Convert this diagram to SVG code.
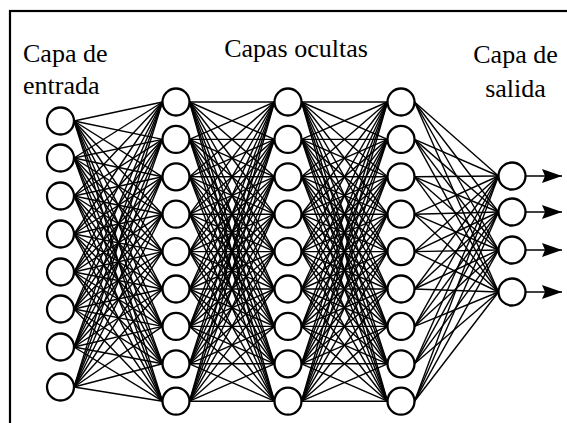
<svg xmlns="http://www.w3.org/2000/svg" width="567" height="423" viewBox="0 0 567 423">
<style>
.n{fill:#fff;stroke:#000;stroke-width:2.3}
.c line{stroke:#000;stroke-width:1.4}
.t{font-family:"Liberation Serif","Times New Roman",serif;font-size:26px;fill:#000}
.b{fill:none;stroke:#000;stroke-width:2.2}
</style>
<defs>
<marker id="ah" markerUnits="userSpaceOnUse" markerWidth="22" markerHeight="14" refX="20" refY="7" orient="auto">
<path d="M0,0 L20,7 L0,14 L3,7 z" fill="#000"/>
</marker>
</defs>
<rect class="b" x="10" y="11" width="570" height="430"/>
<g id="labels">
<text class="t" x="23" y="62">Capa de</text>
<text class="t" x="23" y="94">entrada</text>
<text class="t" x="296" y="57" text-anchor="middle">Capas ocultas</text>
<text class="t" x="515.5" y="63" text-anchor="middle">Capa de</text>
<text class="t" x="515.5" y="97" text-anchor="middle">salida</text>
</g>
<g id="connectors" class="c">
<g id="c-in-h1">
<line x1="74" y1="121" x2="162.5" y2="102"/><line x1="74" y1="121" x2="162.5" y2="139.4"/><line x1="74" y1="121" x2="162.5" y2="176.8"/><line x1="74" y1="121" x2="162.5" y2="214.2"/><line x1="74" y1="121" x2="162.5" y2="251.6"/><line x1="74" y1="121" x2="162.5" y2="289"/><line x1="74" y1="121" x2="162.5" y2="326.4"/><line x1="74" y1="121" x2="162.5" y2="363.8"/><line x1="74" y1="121" x2="162.5" y2="401.2"/>
<line x1="74" y1="158" x2="162.5" y2="102"/><line x1="74" y1="158" x2="162.5" y2="139.4"/><line x1="74" y1="158" x2="162.5" y2="176.8"/><line x1="74" y1="158" x2="162.5" y2="214.2"/><line x1="74" y1="158" x2="162.5" y2="251.6"/><line x1="74" y1="158" x2="162.5" y2="289"/><line x1="74" y1="158" x2="162.5" y2="326.4"/><line x1="74" y1="158" x2="162.5" y2="363.8"/><line x1="74" y1="158" x2="162.5" y2="401.2"/>
<line x1="74" y1="196" x2="162.5" y2="102"/><line x1="74" y1="196" x2="162.5" y2="139.4"/><line x1="74" y1="196" x2="162.5" y2="176.8"/><line x1="74" y1="196" x2="162.5" y2="214.2"/><line x1="74" y1="196" x2="162.5" y2="251.6"/><line x1="74" y1="196" x2="162.5" y2="289"/><line x1="74" y1="196" x2="162.5" y2="326.4"/><line x1="74" y1="196" x2="162.5" y2="363.8"/><line x1="74" y1="196" x2="162.5" y2="401.2"/>
<line x1="74" y1="234" x2="162.5" y2="102"/><line x1="74" y1="234" x2="162.5" y2="139.4"/><line x1="74" y1="234" x2="162.5" y2="176.8"/><line x1="74" y1="234" x2="162.5" y2="214.2"/><line x1="74" y1="234" x2="162.5" y2="251.6"/><line x1="74" y1="234" x2="162.5" y2="289"/><line x1="74" y1="234" x2="162.5" y2="326.4"/><line x1="74" y1="234" x2="162.5" y2="363.8"/><line x1="74" y1="234" x2="162.5" y2="401.2"/>
<line x1="74" y1="272" x2="162.5" y2="102"/><line x1="74" y1="272" x2="162.5" y2="139.4"/><line x1="74" y1="272" x2="162.5" y2="176.8"/><line x1="74" y1="272" x2="162.5" y2="214.2"/><line x1="74" y1="272" x2="162.5" y2="251.6"/><line x1="74" y1="272" x2="162.5" y2="289"/><line x1="74" y1="272" x2="162.5" y2="326.4"/><line x1="74" y1="272" x2="162.5" y2="363.8"/><line x1="74" y1="272" x2="162.5" y2="401.2"/>
<line x1="74" y1="309" x2="162.5" y2="102"/><line x1="74" y1="309" x2="162.5" y2="139.4"/><line x1="74" y1="309" x2="162.5" y2="176.8"/><line x1="74" y1="309" x2="162.5" y2="214.2"/><line x1="74" y1="309" x2="162.5" y2="251.6"/><line x1="74" y1="309" x2="162.5" y2="289"/><line x1="74" y1="309" x2="162.5" y2="326.4"/><line x1="74" y1="309" x2="162.5" y2="363.8"/><line x1="74" y1="309" x2="162.5" y2="401.2"/>
<line x1="74" y1="347" x2="162.5" y2="102"/><line x1="74" y1="347" x2="162.5" y2="139.4"/><line x1="74" y1="347" x2="162.5" y2="176.8"/><line x1="74" y1="347" x2="162.5" y2="214.2"/><line x1="74" y1="347" x2="162.5" y2="251.6"/><line x1="74" y1="347" x2="162.5" y2="289"/><line x1="74" y1="347" x2="162.5" y2="326.4"/><line x1="74" y1="347" x2="162.5" y2="363.8"/><line x1="74" y1="347" x2="162.5" y2="401.2"/>
<line x1="74" y1="387" x2="162.5" y2="102"/><line x1="74" y1="387" x2="162.5" y2="139.4"/><line x1="74" y1="387" x2="162.5" y2="176.8"/><line x1="74" y1="387" x2="162.5" y2="214.2"/><line x1="74" y1="387" x2="162.5" y2="251.6"/><line x1="74" y1="387" x2="162.5" y2="289"/><line x1="74" y1="387" x2="162.5" y2="326.4"/><line x1="74" y1="387" x2="162.5" y2="363.8"/><line x1="74" y1="387" x2="162.5" y2="401.2"/>
</g>
<g id="c-h1-h2">
<line x1="189.5" y1="102" x2="274.5" y2="102"/><line x1="189.5" y1="102" x2="274.5" y2="139.4"/><line x1="189.5" y1="102" x2="274.5" y2="176.8"/><line x1="189.5" y1="102" x2="274.5" y2="214.2"/><line x1="189.5" y1="102" x2="274.5" y2="251.6"/><line x1="189.5" y1="102" x2="274.5" y2="289"/><line x1="189.5" y1="102" x2="274.5" y2="326.4"/><line x1="189.5" y1="102" x2="274.5" y2="363.8"/><line x1="189.5" y1="102" x2="274.5" y2="401.2"/>
<line x1="189.5" y1="139.4" x2="274.5" y2="102"/><line x1="189.5" y1="139.4" x2="274.5" y2="139.4"/><line x1="189.5" y1="139.4" x2="274.5" y2="176.8"/><line x1="189.5" y1="139.4" x2="274.5" y2="214.2"/><line x1="189.5" y1="139.4" x2="274.5" y2="251.6"/><line x1="189.5" y1="139.4" x2="274.5" y2="289"/><line x1="189.5" y1="139.4" x2="274.5" y2="326.4"/><line x1="189.5" y1="139.4" x2="274.5" y2="363.8"/><line x1="189.5" y1="139.4" x2="274.5" y2="401.2"/>
<line x1="189.5" y1="176.8" x2="274.5" y2="102"/><line x1="189.5" y1="176.8" x2="274.5" y2="139.4"/><line x1="189.5" y1="176.8" x2="274.5" y2="176.8"/><line x1="189.5" y1="176.8" x2="274.5" y2="214.2"/><line x1="189.5" y1="176.8" x2="274.5" y2="251.6"/><line x1="189.5" y1="176.8" x2="274.5" y2="289"/><line x1="189.5" y1="176.8" x2="274.5" y2="326.4"/><line x1="189.5" y1="176.8" x2="274.5" y2="363.8"/><line x1="189.5" y1="176.8" x2="274.5" y2="401.2"/>
<line x1="189.5" y1="214.2" x2="274.5" y2="102"/><line x1="189.5" y1="214.2" x2="274.5" y2="139.4"/><line x1="189.5" y1="214.2" x2="274.5" y2="176.8"/><line x1="189.5" y1="214.2" x2="274.5" y2="214.2"/><line x1="189.5" y1="214.2" x2="274.5" y2="251.6"/><line x1="189.5" y1="214.2" x2="274.5" y2="289"/><line x1="189.5" y1="214.2" x2="274.5" y2="326.4"/><line x1="189.5" y1="214.2" x2="274.5" y2="363.8"/><line x1="189.5" y1="214.2" x2="274.5" y2="401.2"/>
<line x1="189.5" y1="251.6" x2="274.5" y2="102"/><line x1="189.5" y1="251.6" x2="274.5" y2="139.4"/><line x1="189.5" y1="251.6" x2="274.5" y2="176.8"/><line x1="189.5" y1="251.6" x2="274.5" y2="214.2"/><line x1="189.5" y1="251.6" x2="274.5" y2="251.6"/><line x1="189.5" y1="251.6" x2="274.5" y2="289"/><line x1="189.5" y1="251.6" x2="274.5" y2="326.4"/><line x1="189.5" y1="251.6" x2="274.5" y2="363.8"/><line x1="189.5" y1="251.6" x2="274.5" y2="401.2"/>
<line x1="189.5" y1="289" x2="274.5" y2="102"/><line x1="189.5" y1="289" x2="274.5" y2="139.4"/><line x1="189.5" y1="289" x2="274.5" y2="176.8"/><line x1="189.5" y1="289" x2="274.5" y2="214.2"/><line x1="189.5" y1="289" x2="274.5" y2="251.6"/><line x1="189.5" y1="289" x2="274.5" y2="289"/><line x1="189.5" y1="289" x2="274.5" y2="326.4"/><line x1="189.5" y1="289" x2="274.5" y2="363.8"/><line x1="189.5" y1="289" x2="274.5" y2="401.2"/>
<line x1="189.5" y1="326.4" x2="274.5" y2="102"/><line x1="189.5" y1="326.4" x2="274.5" y2="139.4"/><line x1="189.5" y1="326.4" x2="274.5" y2="176.8"/><line x1="189.5" y1="326.4" x2="274.5" y2="214.2"/><line x1="189.5" y1="326.4" x2="274.5" y2="251.6"/><line x1="189.5" y1="326.4" x2="274.5" y2="289"/><line x1="189.5" y1="326.4" x2="274.5" y2="326.4"/><line x1="189.5" y1="326.4" x2="274.5" y2="363.8"/><line x1="189.5" y1="326.4" x2="274.5" y2="401.2"/>
<line x1="189.5" y1="363.8" x2="274.5" y2="102"/><line x1="189.5" y1="363.8" x2="274.5" y2="139.4"/><line x1="189.5" y1="363.8" x2="274.5" y2="176.8"/><line x1="189.5" y1="363.8" x2="274.5" y2="214.2"/><line x1="189.5" y1="363.8" x2="274.5" y2="251.6"/><line x1="189.5" y1="363.8" x2="274.5" y2="289"/><line x1="189.5" y1="363.8" x2="274.5" y2="326.4"/><line x1="189.5" y1="363.8" x2="274.5" y2="363.8"/><line x1="189.5" y1="363.8" x2="274.5" y2="401.2"/>
<line x1="189.5" y1="401.2" x2="274.5" y2="102"/><line x1="189.5" y1="401.2" x2="274.5" y2="139.4"/><line x1="189.5" y1="401.2" x2="274.5" y2="176.8"/><line x1="189.5" y1="401.2" x2="274.5" y2="214.2"/><line x1="189.5" y1="401.2" x2="274.5" y2="251.6"/><line x1="189.5" y1="401.2" x2="274.5" y2="289"/><line x1="189.5" y1="401.2" x2="274.5" y2="326.4"/><line x1="189.5" y1="401.2" x2="274.5" y2="363.8"/><line x1="189.5" y1="401.2" x2="274.5" y2="401.2"/>
</g>
<g id="c-h2-h3">
<line x1="301.5" y1="102" x2="387.5" y2="102"/><line x1="301.5" y1="102" x2="387.5" y2="139.4"/><line x1="301.5" y1="102" x2="387.5" y2="176.8"/><line x1="301.5" y1="102" x2="387.5" y2="214.2"/><line x1="301.5" y1="102" x2="387.5" y2="251.6"/><line x1="301.5" y1="102" x2="387.5" y2="289"/><line x1="301.5" y1="102" x2="387.5" y2="326.4"/><line x1="301.5" y1="102" x2="387.5" y2="363.8"/><line x1="301.5" y1="102" x2="387.5" y2="401.2"/>
<line x1="301.5" y1="139.4" x2="387.5" y2="102"/><line x1="301.5" y1="139.4" x2="387.5" y2="139.4"/><line x1="301.5" y1="139.4" x2="387.5" y2="176.8"/><line x1="301.5" y1="139.4" x2="387.5" y2="214.2"/><line x1="301.5" y1="139.4" x2="387.5" y2="251.6"/><line x1="301.5" y1="139.4" x2="387.5" y2="289"/><line x1="301.5" y1="139.4" x2="387.5" y2="326.4"/><line x1="301.5" y1="139.4" x2="387.5" y2="363.8"/><line x1="301.5" y1="139.4" x2="387.5" y2="401.2"/>
<line x1="301.5" y1="176.8" x2="387.5" y2="102"/><line x1="301.5" y1="176.8" x2="387.5" y2="139.4"/><line x1="301.5" y1="176.8" x2="387.5" y2="176.8"/><line x1="301.5" y1="176.8" x2="387.5" y2="214.2"/><line x1="301.5" y1="176.8" x2="387.5" y2="251.6"/><line x1="301.5" y1="176.8" x2="387.5" y2="289"/><line x1="301.5" y1="176.8" x2="387.5" y2="326.4"/><line x1="301.5" y1="176.8" x2="387.5" y2="363.8"/><line x1="301.5" y1="176.8" x2="387.5" y2="401.2"/>
<line x1="301.5" y1="214.2" x2="387.5" y2="102"/><line x1="301.5" y1="214.2" x2="387.5" y2="139.4"/><line x1="301.5" y1="214.2" x2="387.5" y2="176.8"/><line x1="301.5" y1="214.2" x2="387.5" y2="214.2"/><line x1="301.5" y1="214.2" x2="387.5" y2="251.6"/><line x1="301.5" y1="214.2" x2="387.5" y2="289"/><line x1="301.5" y1="214.2" x2="387.5" y2="326.4"/><line x1="301.5" y1="214.2" x2="387.5" y2="363.8"/><line x1="301.5" y1="214.2" x2="387.5" y2="401.2"/>
<line x1="301.5" y1="251.6" x2="387.5" y2="102"/><line x1="301.5" y1="251.6" x2="387.5" y2="139.4"/><line x1="301.5" y1="251.6" x2="387.5" y2="176.8"/><line x1="301.5" y1="251.6" x2="387.5" y2="214.2"/><line x1="301.5" y1="251.6" x2="387.5" y2="251.6"/><line x1="301.5" y1="251.6" x2="387.5" y2="289"/><line x1="301.5" y1="251.6" x2="387.5" y2="326.4"/><line x1="301.5" y1="251.6" x2="387.5" y2="363.8"/><line x1="301.5" y1="251.6" x2="387.5" y2="401.2"/>
<line x1="301.5" y1="289" x2="387.5" y2="102"/><line x1="301.5" y1="289" x2="387.5" y2="139.4"/><line x1="301.5" y1="289" x2="387.5" y2="176.8"/><line x1="301.5" y1="289" x2="387.5" y2="214.2"/><line x1="301.5" y1="289" x2="387.5" y2="251.6"/><line x1="301.5" y1="289" x2="387.5" y2="289"/><line x1="301.5" y1="289" x2="387.5" y2="326.4"/><line x1="301.5" y1="289" x2="387.5" y2="363.8"/><line x1="301.5" y1="289" x2="387.5" y2="401.2"/>
<line x1="301.5" y1="326.4" x2="387.5" y2="102"/><line x1="301.5" y1="326.4" x2="387.5" y2="139.4"/><line x1="301.5" y1="326.4" x2="387.5" y2="176.8"/><line x1="301.5" y1="326.4" x2="387.5" y2="214.2"/><line x1="301.5" y1="326.4" x2="387.5" y2="251.6"/><line x1="301.5" y1="326.4" x2="387.5" y2="289"/><line x1="301.5" y1="326.4" x2="387.5" y2="326.4"/><line x1="301.5" y1="326.4" x2="387.5" y2="363.8"/><line x1="301.5" y1="326.4" x2="387.5" y2="401.2"/>
<line x1="301.5" y1="363.8" x2="387.5" y2="102"/><line x1="301.5" y1="363.8" x2="387.5" y2="139.4"/><line x1="301.5" y1="363.8" x2="387.5" y2="176.8"/><line x1="301.5" y1="363.8" x2="387.5" y2="214.2"/><line x1="301.5" y1="363.8" x2="387.5" y2="251.6"/><line x1="301.5" y1="363.8" x2="387.5" y2="289"/><line x1="301.5" y1="363.8" x2="387.5" y2="326.4"/><line x1="301.5" y1="363.8" x2="387.5" y2="363.8"/><line x1="301.5" y1="363.8" x2="387.5" y2="401.2"/>
<line x1="301.5" y1="401.2" x2="387.5" y2="102"/><line x1="301.5" y1="401.2" x2="387.5" y2="139.4"/><line x1="301.5" y1="401.2" x2="387.5" y2="176.8"/><line x1="301.5" y1="401.2" x2="387.5" y2="214.2"/><line x1="301.5" y1="401.2" x2="387.5" y2="251.6"/><line x1="301.5" y1="401.2" x2="387.5" y2="289"/><line x1="301.5" y1="401.2" x2="387.5" y2="326.4"/><line x1="301.5" y1="401.2" x2="387.5" y2="363.8"/><line x1="301.5" y1="401.2" x2="387.5" y2="401.2"/>
</g>
<g id="c-h3-out">
<line x1="414.5" y1="102" x2="498.5" y2="176"/><line x1="414.5" y1="102" x2="498.5" y2="212"/><line x1="414.5" y1="102" x2="498.5" y2="250"/><line x1="414.5" y1="102" x2="498.5" y2="292"/>
<line x1="414.5" y1="139.4" x2="498.5" y2="176"/><line x1="414.5" y1="139.4" x2="498.5" y2="212"/><line x1="414.5" y1="139.4" x2="498.5" y2="250"/><line x1="414.5" y1="139.4" x2="498.5" y2="292"/>
<line x1="414.5" y1="176.8" x2="498.5" y2="176"/><line x1="414.5" y1="176.8" x2="498.5" y2="212"/><line x1="414.5" y1="176.8" x2="498.5" y2="250"/><line x1="414.5" y1="176.8" x2="498.5" y2="292"/>
<line x1="414.5" y1="214.2" x2="498.5" y2="176"/><line x1="414.5" y1="214.2" x2="498.5" y2="212"/><line x1="414.5" y1="214.2" x2="498.5" y2="250"/><line x1="414.5" y1="214.2" x2="498.5" y2="292"/>
<line x1="414.5" y1="251.6" x2="498.5" y2="176"/><line x1="414.5" y1="251.6" x2="498.5" y2="212"/><line x1="414.5" y1="251.6" x2="498.5" y2="250"/><line x1="414.5" y1="251.6" x2="498.5" y2="292"/>
<line x1="414.5" y1="289" x2="498.5" y2="176"/><line x1="414.5" y1="289" x2="498.5" y2="212"/><line x1="414.5" y1="289" x2="498.5" y2="250"/><line x1="414.5" y1="289" x2="498.5" y2="292"/>
<line x1="414.5" y1="326.4" x2="498.5" y2="176"/><line x1="414.5" y1="326.4" x2="498.5" y2="212"/><line x1="414.5" y1="326.4" x2="498.5" y2="250"/><line x1="414.5" y1="326.4" x2="498.5" y2="292"/>
<line x1="414.5" y1="363.8" x2="498.5" y2="176"/><line x1="414.5" y1="363.8" x2="498.5" y2="212"/><line x1="414.5" y1="363.8" x2="498.5" y2="250"/><line x1="414.5" y1="363.8" x2="498.5" y2="292"/>
<line x1="414.5" y1="401.2" x2="498.5" y2="176"/><line x1="414.5" y1="401.2" x2="498.5" y2="212"/><line x1="414.5" y1="401.2" x2="498.5" y2="250"/><line x1="414.5" y1="401.2" x2="498.5" y2="292"/>
</g>
<g id="c-out">
<line x1="525.5" y1="176" x2="562" y2="176" marker-end="url(#ah)"/>
<line x1="525.5" y1="212" x2="562" y2="212" marker-end="url(#ah)"/>
<line x1="525.5" y1="250" x2="562" y2="250" marker-end="url(#ah)"/>
<line x1="525.5" y1="292" x2="562" y2="292" marker-end="url(#ah)"/>
</g>
</g>
<g id="in1"><circle class="n" cx="60.5" cy="121" r="13.5"/></g>
<g id="in2"><circle class="n" cx="60.5" cy="158" r="13.5"/></g>
<g id="in3"><circle class="n" cx="60.5" cy="196" r="13.5"/></g>
<g id="in4"><circle class="n" cx="60.5" cy="234" r="13.5"/></g>
<g id="in5"><circle class="n" cx="60.5" cy="272" r="13.5"/></g>
<g id="in6"><circle class="n" cx="60.5" cy="309" r="13.5"/></g>
<g id="in7"><circle class="n" cx="60.5" cy="347" r="13.5"/></g>
<g id="in8"><circle class="n" cx="60.5" cy="387" r="13.5"/></g>
<g id="h1-1"><circle class="n" cx="176" cy="102" r="13.5"/></g>
<g id="h1-2"><circle class="n" cx="176" cy="139.4" r="13.5"/></g>
<g id="h1-3"><circle class="n" cx="176" cy="176.8" r="13.5"/></g>
<g id="h1-4"><circle class="n" cx="176" cy="214.2" r="13.5"/></g>
<g id="h1-5"><circle class="n" cx="176" cy="251.6" r="13.5"/></g>
<g id="h1-6"><circle class="n" cx="176" cy="289" r="13.5"/></g>
<g id="h1-7"><circle class="n" cx="176" cy="326.4" r="13.5"/></g>
<g id="h1-8"><circle class="n" cx="176" cy="363.8" r="13.5"/></g>
<g id="h1-9"><circle class="n" cx="176" cy="401.2" r="13.5"/></g>
<g id="h2-1"><circle class="n" cx="288" cy="102" r="13.5"/></g>
<g id="h2-2"><circle class="n" cx="288" cy="139.4" r="13.5"/></g>
<g id="h2-3"><circle class="n" cx="288" cy="176.8" r="13.5"/></g>
<g id="h2-4"><circle class="n" cx="288" cy="214.2" r="13.5"/></g>
<g id="h2-5"><circle class="n" cx="288" cy="251.6" r="13.5"/></g>
<g id="h2-6"><circle class="n" cx="288" cy="289" r="13.5"/></g>
<g id="h2-7"><circle class="n" cx="288" cy="326.4" r="13.5"/></g>
<g id="h2-8"><circle class="n" cx="288" cy="363.8" r="13.5"/></g>
<g id="h2-9"><circle class="n" cx="288" cy="401.2" r="13.5"/></g>
<g id="h3-1"><circle class="n" cx="401" cy="102" r="13.5"/></g>
<g id="h3-2"><circle class="n" cx="401" cy="139.4" r="13.5"/></g>
<g id="h3-3"><circle class="n" cx="401" cy="176.8" r="13.5"/></g>
<g id="h3-4"><circle class="n" cx="401" cy="214.2" r="13.5"/></g>
<g id="h3-5"><circle class="n" cx="401" cy="251.6" r="13.5"/></g>
<g id="h3-6"><circle class="n" cx="401" cy="289" r="13.5"/></g>
<g id="h3-7"><circle class="n" cx="401" cy="326.4" r="13.5"/></g>
<g id="h3-8"><circle class="n" cx="401" cy="363.8" r="13.5"/></g>
<g id="h3-9"><circle class="n" cx="401" cy="401.2" r="13.5"/></g>
<g id="out1"><circle class="n" cx="512" cy="176" r="13.5"/></g>
<g id="out2"><circle class="n" cx="512" cy="212" r="13.5"/></g>
<g id="out3"><circle class="n" cx="512" cy="250" r="13.5"/></g>
<g id="out4"><circle class="n" cx="512" cy="292" r="13.5"/></g>
</svg>
